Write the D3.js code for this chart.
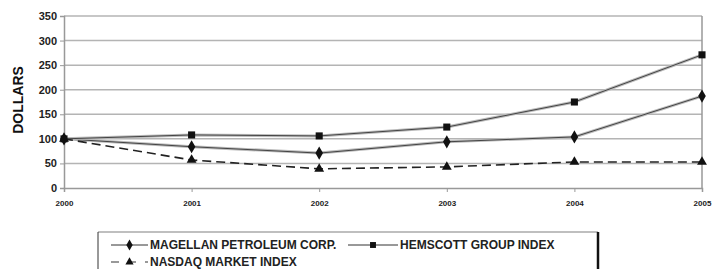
<!DOCTYPE html>
<html>
<head>
<meta charset="utf-8">
<script src="https://cdn.jsdelivr.net/npm/d3@7"></script>
<style>
  body { margin: 0; background: #fff; }
  svg { display: block; font-family: "Liberation Sans", Arial, sans-serif; }
</style>
</head>
<body>
<div id="chart"></div>
<script>
var years = [2000, 2001, 2002, 2003, 2004, 2005];
var magellan = [100, 84, 71, 94, 104, 187];
var hemscott = [100, 108, 106, 124, 175, 271];
var nasdaq = [100, 57, 39, 43, 53, 53];
var yTicks = [0, 50, 100, 150, 200, 250, 300, 350];

var width = 712, height = 269;
var svg = d3.select("#chart").append("svg")
  .attr("width", width)
  .attr("height", height);

var scX = d3.scalePoint()
  .domain(years)
  .range([64, 702]);
var scY = d3.scaleLinear()
  .domain([0, 350])
  .range([188, 16]);

// grid lines
svg.append("g")
  .selectAll("line")
  .data(yTicks.slice(1))
  .enter()
  .append("line")
  .attr("x1", 64).attr("x2", 702)
  .attr("y1", d => scY(d)).attr("y2", d => scY(d))
  .attr("stroke", "#b4b4b4")
  .attr("stroke-width", 1.5);

// right border
svg.append("line")
  .attr("x1", 702).attr("x2", 702)
  .attr("y1", scY(350)).attr("y2", scY(0))
  .attr("stroke", "#999")
  .attr("stroke-width", 1.5);

var yAxis = svg.append("g")
  .attr("transform", "translate(64,0)")
  .call(d3.axisLeft(scY).tickValues(yTicks).tickSize(4).tickPadding(3));
var xAxis = svg.append("g")
  .attr("transform", "translate(0,188)")
  .call(d3.axisBottom(scX).tickSize(4).tickPadding(8));

[yAxis, xAxis].forEach(function (a) {
  a.select(".domain").attr("stroke", "#999").attr("stroke-width", 1.5);
  a.selectAll(".tick line").attr("stroke", "#999");
  a.selectAll("text")
    .attr("fill", "#222")
    .attr("font-weight", "bold")
    .attr("font-family", "Liberation Sans, Arial, sans-serif");
});
yAxis.selectAll("text").attr("font-size", 11);
xAxis.selectAll("text").attr("font-size", 8);

svg.append("text")
  .attr("transform", "translate(23,100) rotate(-90)")
  .attr("text-anchor", "middle")
  .attr("font-size", 14)
  .attr("font-weight", "bold")
  .attr("fill", "#111")
  .text("DOLLARS");

var series = [
  { name: "MAGELLAN PETROLEUM CORP.", values: magellan, sym: d3.symbolDiamond, size: 50, dash: null },
  { name: "HEMSCOTT GROUP INDEX", values: hemscott, sym: d3.symbolSquare, size: 50, dash: null },
  { name: "NASDAQ MARKET INDEX", values: nasdaq, sym: d3.symbolTriangle, size: 42, dash: "9,5" }
];

var line = d3.line()
  .x((d, i) => scX(years[i]))
  .y(d => scY(d));

series.forEach(function (s) {
  var g = svg.append("g");
  if (!s.dash) {
    g.append("path")
      .attr("d", line(s.values))
      .attr("fill", "none")
      .attr("stroke", "#bbb")
      .attr("stroke-width", 3);
  }
  g.append("path")
    .attr("d", line(s.values))
    .attr("fill", "none")
    .attr("stroke", s.dash ? "#222" : "#444")
    .attr("stroke-width", s.dash ? 1.6 : 1)
    .attr("stroke-dasharray", s.dash);
  g.selectAll("path.m")
    .data(s.values)
    .enter()
    .append("path")
    .attr("class", "m")
    .attr("transform", (d, i) => `translate(${scX(years[i])},${scY(d)})`)
    .attr("d", d3.symbol().type(s.sym).size(s.size))
    .attr("fill", "#111");
});

// legend
var leg = svg.append("g");
leg.append("line").attr("x1", 98).attr("x2", 598).attr("y1", 232).attr("y2", 232)
  .attr("stroke", "#aaa").attr("stroke-width", 1.5);
leg.append("line").attr("x1", 98).attr("x2", 98).attr("y1", 232).attr("y2", 269)
  .attr("stroke", "#333").attr("stroke-width", 1);
leg.append("line").attr("x1", 598).attr("x2", 598).attr("y1", 232).attr("y2", 269)
  .attr("stroke", "#111").attr("stroke-width", 2.5);

var legPos = [[111, 245], [348, 245], [111, 262]];
series.forEach(function (s, i) {
  var p = legPos[i];
  var w = i === 1 ? 50 : 37;
  var gi = leg.append("g").attr("transform", `translate(${p[0]},${p[1]})`);
  gi.append("line")
    .attr("x1", 0).attr("x2", w)
    .attr("stroke", s.dash ? "#999" : "#333")
    .attr("stroke-width", s.dash ? 2 : 1)
    .attr("stroke-dasharray", s.dash ? "8,9" : null);
  gi.append("path")
    .attr("transform", `translate(${w / 2},0)`)
    .attr("d", d3.symbol().type(s.sym).size(s.size * 0.7))
    .attr("fill", "#111");
  gi.append("text")
    .attr("x", w + 2)
    .attr("dy", "0.36em")
    .attr("font-size", 12)
    .attr("font-weight", "bold")
    .attr("fill", "#222")
    .text(s.name);
});
</script>
</body>
</html>
